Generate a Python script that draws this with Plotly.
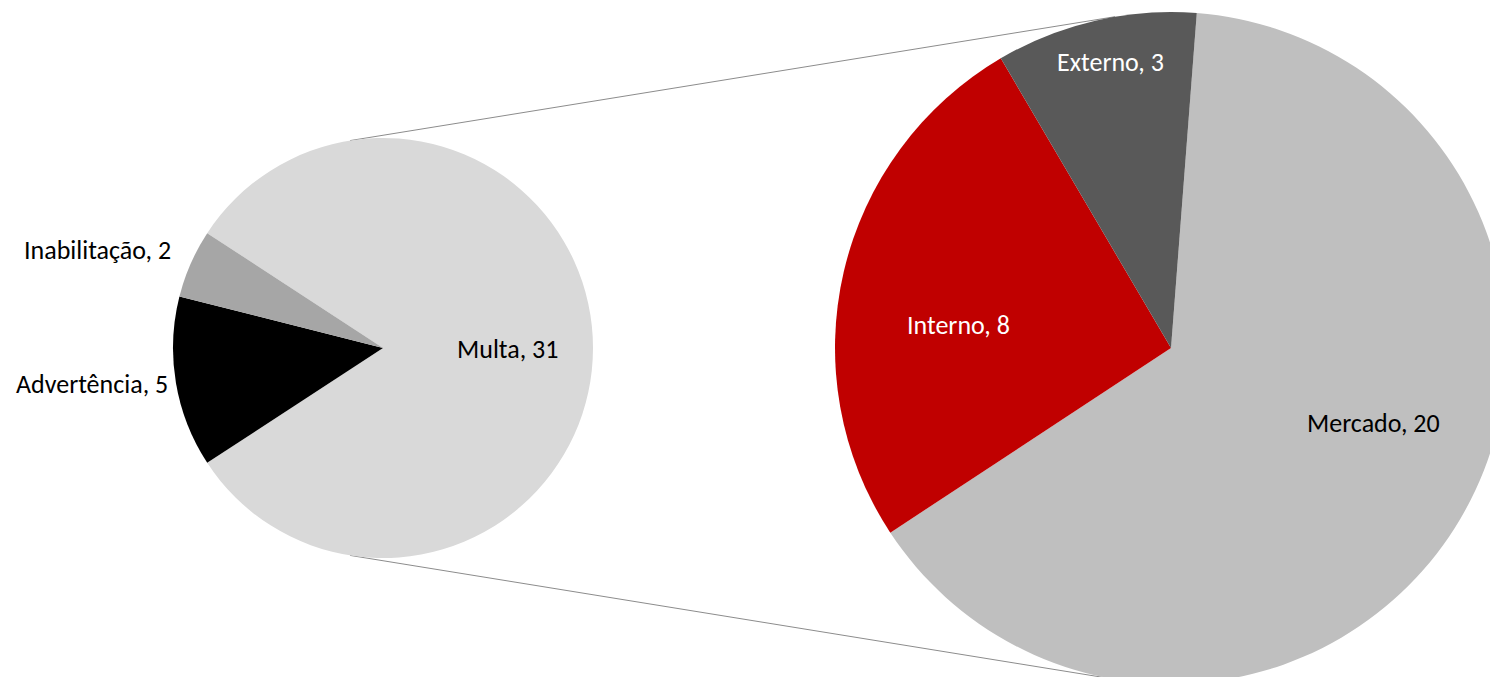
import math
import plotly.graph_objects as go

# ---- data ----
main_labels = ["Multa", "Advertência", "Inabilitação"]
main_values = [31, 5, 2]
sub_labels = ["Mercado", "Interno", "Externo"]
sub_values = [20, 8, 3]

# ---- styles ----
main_colors = ["#D9D9D9", "#000000", "#A6A6A6"]
sub_colors = ["#BFBFBF", "#C00000", "#595959"]
sub_text_colors = ["#000000", "#FFFFFF", "#FFFFFF"]
FONT = "Calibri, Carlito, Lato, sans-serif"
FSIZE = 26

# canvas (slightly larger than the window so the big pie is cropped like the reference)
W, H = 1510, 690

# geometry in pixels
L_CX, L_CY, L_R = 383, 348, 210
R_CX, R_CY, R_R = 1171, 348, 336


def dom(cx, cy, r):
    return dict(x=[(cx - r) / W, (cx + r) / W], y=[1 - (cy + r) / H, 1 - (cy - r) / H])


main_total = sum(main_values)
other_share = main_values[0] / main_total * 360.0
main_rotation = 90 - other_share / 2

fig = go.Figure()
fig.add_trace(go.Pie(
    labels=main_labels, values=main_values, sort=False, direction="clockwise",
    rotation=main_rotation, marker=dict(colors=main_colors, line=dict(width=0)),
    textinfo="none", domain=dom(L_CX, L_CY, L_R), showlegend=False,
    hovertemplate="%{label}, %{value}<extra></extra>",
))
fig.add_trace(go.Pie(
    labels=sub_labels, values=sub_values, sort=False, direction="clockwise",
    rotation=4.4, marker=dict(colors=sub_colors, line=dict(width=0)),
    textinfo="none", domain=dom(R_CX, R_CY, R_R), showlegend=False,
    hovertemplate="%{label}, %{value}<extra></extra>",
))

# label positions (pixels)
main_label_pos = [(507, 349), (92, 384), (97, 250)]
sub_label_pos = [(1373, 423), (958, 325), (1110, 62)]

annotations = []
for lab, val, (px, py) in zip(main_labels, main_values, main_label_pos):
    annotations.append(dict(text=f"{lab}, {val}", x=px / W, y=1 - py / H, xref="paper", yref="paper",
                            showarrow=False, xanchor="center", yanchor="middle",
                            font=dict(family=FONT, size=FSIZE, color="#000000")))
for lab, val, col, (px, py) in zip(sub_labels, sub_values, sub_text_colors, sub_label_pos):
    annotations.append(dict(text=f"{lab}, {val}", x=px / W, y=1 - py / H, xref="paper", yref="paper",
                            showarrow=False, xanchor="center", yanchor="middle",
                            font=dict(family=FONT, size=FSIZE, color=col)))

# connector lines between the pies
shapes = []
for sgn in (-1, 1):
    a_l = math.radians(99)
    a_r = math.radians(99.6)
    x0 = L_CX + L_R * math.cos(a_l)
    y0 = L_CY + sgn * L_R * math.sin(a_l)
    x1 = R_CX + R_R * math.cos(a_r)
    y1 = R_CY + sgn * R_R * math.sin(a_r)
    shapes.append(dict(type="line", xref="paper", yref="paper",
                       x0=x0 / W, y0=1 - y0 / H, x1=x1 / W, y1=1 - y1 / H,
                       line=dict(color="#8C8C8C", width=1), layer="below"))

fig.update_layout(
    width=W, height=H, margin=dict(l=0, r=0, t=0, b=0),
    paper_bgcolor="white", plot_bgcolor="white",
    annotations=annotations, shapes=shapes, showlegend=False,
    font=dict(family=FONT),
)

fig.write_html(
    "out.html",
    config={"displayModeBar": False},
    post_script="document.body.style.margin='0';document.body.style.overflow='hidden';"
                "document.documentElement.style.overflow='hidden';",
)
